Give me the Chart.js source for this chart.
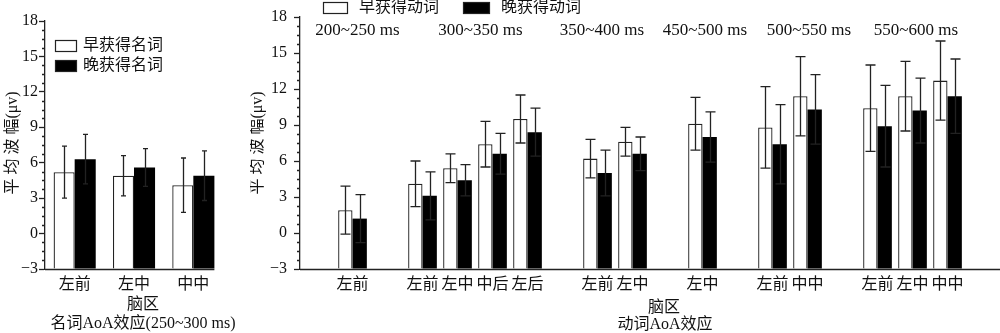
<!DOCTYPE html>
<html>
<head>
<meta charset="utf-8">
<script src="https://cdn.jsdelivr.net/npm/chart.js@4.4.1/dist/chart.umd.min.js"></script>
<style>
html, body { margin: 0; padding: 0; background: #fff; }
#wrap { position: relative; width: 1000px; height: 333px; overflow: hidden; }
#nounBox { position: absolute; left: 0; top: 0; }
#verbBox { position: absolute; left: 250px; top: 0; }
</style>
</head>
<body>
<div id="wrap">
  <div id="nounBox"><canvas id="nounChart" width="250" height="333"></canvas></div>
  <div id="verbBox"><canvas id="verbChart" width="750" height="333"></canvas></div>
</div>
<script>
// noun AoA effect, 250~300 ms
var nounRegions = ['左前', '左中', '中中'];
var nounEarly = [5.2, 4.9, 4.1];
var nounEarlyErr = [2.2, 1.7, 2.3];
var nounLate = [6.3, 5.6, 4.9];
var nounLateErr = [2.1, 1.6, 2.1];

// verb AoA effect, one group per time window
var verbWindows = ['200~250 ms', '300~350 ms', '350~400 ms', '450~500 ms', '500~550 ms', '550~600 ms'];
var verbRegions = [['左前'], ['左前', '左中', '中后', '左后'], ['左前', '左中'], ['左中'], ['左前', '中中'], ['左前', '左中', '中中']];
var verbEarly = [[1.9], [4.1, 5.4, 7.4, 9.5], [6.2, 7.6], [9.1], [8.8, 11.4], [10.4, 11.4, 12.7]];
var verbEarlyErr = [[2.0], [1.9, 1.2, 1.9, 2.0], [1.6, 1.2], [2.2], [3.4, 3.3], [3.6, 2.9, 3.3]];
var verbLate = [[1.2], [3.1, 4.4, 6.6, 8.4], [5.0, 6.6], [8.0], [7.4, 10.3], [8.9, 10.2, 11.4]];
var verbLateErr = [[2.0], [2.0, 1.3, 1.7, 2.0], [1.9, 1.4], [2.1], [3.3, 2.9], [3.4, 2.7, 3.1]];

var yTicks = [-3, 0, 3, 6, 9, 12, 15, 18];

var SERIF = "'Liberation Serif', 'Noto Sans CJK SC', serif";
var INK = '#222';

// flatten the verb groups into slots with a blank slot before each group and one at the end
var verbLabels = [], verbE = [], verbEE = [], verbL = [], verbLE = [], groupSlots = [];
verbWindows.forEach(function (w, g) {
  verbLabels.push(''); verbE.push(null); verbEE.push(null); verbL.push(null); verbLE.push(null);
  var first = verbLabels.length;
  verbRegions[g].forEach(function (r, i) {
    verbLabels.push(r);
    verbE.push(verbEarly[g][i]); verbEE.push(verbEarlyErr[g][i]);
    verbL.push(verbLate[g][i]); verbLE.push(verbLateErr[g][i]);
  });
  groupSlots.push([first, verbLabels.length - 1]);
});
verbLabels.push(''); verbE.push(null); verbEE.push(null); verbL.push(null); verbLE.push(null);

function fmtTick(v) {
  return v < 0 ? '\u2212' + (-v) : String(v);
}

// error bars, drawn on top of each bar
var errorBars = {
  id: 'errorBars',
  afterDatasetsDraw: function (chart, args, opts) {
    var ctx = chart.ctx, ys = chart.scales.y;
    ctx.save();
    ctx.strokeStyle = INK;
    ctx.lineWidth = 1.3;
    chart.data.datasets.forEach(function (ds, di) {
      var meta = chart.getDatasetMeta(di);
      meta.data.forEach(function (bar, i) {
        var v = ds.data[i], e = ds.errors[i];
        if (v == null || e == null) return;
        var t = ys.getPixelForValue(v + e), b = ys.getPixelForValue(v - e);
        var x = Math.round(bar.x) + 0.5, c = opts.cap / 2;
        ctx.beginPath();
        ctx.moveTo(x, t); ctx.lineTo(x, b);
        ctx.moveTo(x - c, t); ctx.lineTo(x + c, t);
        ctx.moveTo(x - c, b); ctx.lineTo(x + c, b);
        ctx.stroke();
      });
    });
    ctx.restore();
  }
};

// x axis line, short minor ticks on y, legend and text notes
var decor = {
  id: 'decor',
  afterDraw: function (chart, args, opts) {
    var ctx = chart.ctx, area = chart.chartArea, ys = chart.scales.y, xs = chart.scales.x;
    ctx.save();
    ctx.strokeStyle = INK;
    ctx.lineWidth = 1.3;

    var xEnd = area.right;
    if (opts.lineToLastBar) {
      var meta = chart.getDatasetMeta(chart.data.datasets.length - 1);
      var last = meta.data[meta.data.length - 1];
      xEnd = last.x + last.width / 2;
    }
    ctx.beginPath();
    ctx.moveTo(area.left, area.bottom + 0.5);
    ctx.lineTo(xEnd, area.bottom + 0.5);
    ctx.stroke();

    ctx.beginPath();
    for (var v = ys.min; v <= ys.max + 0.001; v += 0.75) {
      if (Math.abs(v % 3) < 0.001) continue;
      var py = Math.round(ys.getPixelForValue(v)) + 0.5;
      ctx.moveTo(area.left, py);
      ctx.lineTo(area.left - 3, py);
    }
    ctx.stroke();

    ctx.fillStyle = '#111';
    ctx.textBaseline = 'middle';

    // legend
    chart.data.datasets.forEach(function (ds, di) {
      var k = opts.legend[di];
      ctx.fillStyle = ds.backgroundColor;
      ctx.fillRect(k.x, k.y, k.w, k.h);
      ctx.strokeStyle = INK;
      ctx.lineWidth = 1.2;
      ctx.strokeRect(k.x + 0.5, k.y + 0.5, k.w - 1, k.h - 1);
      ctx.fillStyle = '#111';
      ctx.font = '16px ' + SERIF;
      ctx.textAlign = 'left';
      ctx.fillText(ds.label, k.tx, k.y + k.h / 2);
    });

    // y title
    ctx.save();
    ctx.translate(opts.yTitle.x, opts.yTitle.y);
    ctx.rotate(-Math.PI / 2);
    ctx.textAlign = 'center';
    ctx.font = '16px ' + SERIF;
    ctx.fillText('平 均 波 幅(μv)', 0, 0);
    ctx.restore();

    // x titles
    ctx.textAlign = 'center';
    ctx.font = '16px ' + SERIF;
    opts.xTitles.forEach(function (t) {
      ctx.fillText(t.text, t.x, t.y);
    });

    // time window captions over each group
    if (opts.windows) {
      ctx.font = '17px ' + SERIF;
      opts.windows.forEach(function (w, g) {
        var cx = (xs.getPixelForValue(groupSlots[g][0]) + xs.getPixelForValue(groupSlots[g][1])) / 2;
        ctx.fillText(w, cx + opts.windowShift[g], 31);
      });
    }
    ctx.restore();
  }
};

function makeScales(yWidth, yPad) {
  return {
    x: {
      grid: { display: false, drawTicks: false },
      border: { display: false },
      ticks: { color: '#111', font: { family: SERIF, size: 16 }, padding: 6, autoSkip: false, maxRotation: 0 },
      afterFit: function (s) { s.height = 64; }
    },
    y: {
      min: -3,
      max: 18,
      afterBuildTicks: function (s) { s.ticks = yTicks.map(function (v) { return { value: v }; }); },
      ticks: { color: '#111', font: { family: SERIF, size: 16 }, padding: yPad, callback: fmtTick },
      grid: { drawOnChartArea: false, tickLength: 6, color: INK, tickWidth: 1.3 },
      border: { display: true, color: INK, width: 1.3 },
      afterFit: function (s) { s.width = yWidth; }
    }
  };
}

// bars rise from the bottom of the axis (-3), not from zero
function barSet(label, data, errs, fill, catPct) {
  return {
    label: label,
    data: data,
    errors: errs,
    base: -3,
    backgroundColor: fill,
    borderColor: INK,
    borderWidth: fill === '#ffffff' ? 1.3 : 0,
    categoryPercentage: catPct,
    barPercentage: 1.0
  };
}

new Chart(document.getElementById('nounChart'), {
  type: 'bar',
  data: {
    labels: nounRegions,
    datasets: [
      barSet('早获得名词', nounEarly, nounEarlyErr, '#ffffff', 0.71),
      barSet('晚获得名词', nounLate, nounLateErr, '#000000', 0.71)
    ]
  },
  options: {
    responsive: false,
    animation: false,
    layout: { padding: { left: 0, right: 27, top: 21, bottom: 0 } },
    plugins: {
      legend: { display: false },
      tooltip: { enabled: false },
      errorBars: { cap: 5 },
      decor: {
        lineToLastBar: true,
        legend: [
          { x: 55, y: 40, w: 22, h: 12, tx: 83 },
          { x: 55, y: 60, w: 22, h: 12, tx: 83 }
        ],
        yTitle: { x: 13, y: 143 },
        xTitles: [
          { text: '脑区', x: 143, y: 305 },
          { text: '名词AoA效应(250~300 ms)', x: 143, y: 324 }
        ]
      }
    },
    scales: makeScales(45, 1)
  },
  plugins: [errorBars, decor]
});

new Chart(document.getElementById('verbChart'), {
  type: 'bar',
  data: {
    labels: verbLabels,
    datasets: [
      barSet('早获得动词', verbE, verbEE, '#ffffff', 0.82),
      barSet('晚获得动词', verbL, verbLE, '#000000', 0.82)
    ]
  },
  options: {
    responsive: false,
    animation: false,
    layout: { padding: { left: 0, right: 0, top: 17, bottom: 0 } },
    plugins: {
      legend: { display: false },
      tooltip: { enabled: false },
      errorBars: { cap: 10 },
      decor: {
        lineToLastBar: false,
        legend: [
          { x: 73, y: 2, w: 25, h: 12, tx: 109 },
          { x: 213, y: 2, w: 27, h: 12, tx: 251 }
        ],
        yTitle: { x: 8, y: 143 },
        xTitles: [
          { text: '脑区', x: 414, y: 308 },
          { text: '动词AoA效应', x: 415, y: 325 }
        ],
        windows: verbWindows,
        windowShift: [5, 5.5, -13, 2.5, 19, 3.5]
      }
    },
    scales: makeScales(50, 7)
  },
  plugins: [errorBars, decor]
});
</script>
</body>
</html>
